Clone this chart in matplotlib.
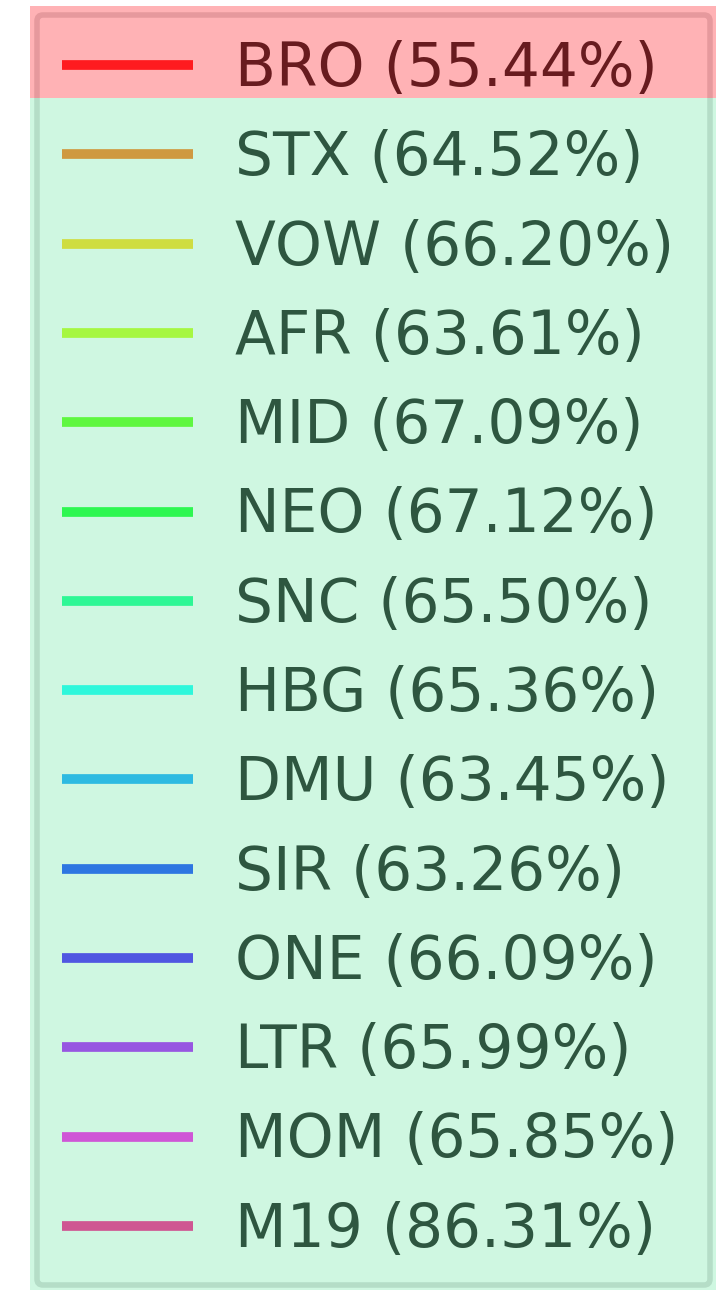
import matplotlib.pyplot as plt
import numpy as np
from matplotlib.patches import Rectangle

names = ["BRO", "STX", "VOW", "AFR", "MID", "NEO", "SNC",
         "HBG", "DMU", "SIR", "ONE", "LTR", "MOM", "M19"]
percents = [55.44, 64.52, 66.20, 63.61, 67.09, 67.12, 65.50,
            65.36, 63.45, 63.26, 66.09, 65.99, 65.85, 86.31]

W, H = 716, 1290
fig = plt.figure(figsize=(W / 100, H / 100), dpi=100)
fig.patch.set_facecolor("white")
ax = fig.add_axes([0, 0, 1, 1])
ax.set_axis_off()

colors = plt.cm.hsv(np.arange(len(names)) / len(names))
for name, pct, c in zip(names, percents, colors):
    ax.plot([], [], color=c, lw=7, solid_capstyle="butt",
            label=f"{name} ({pct:.2f}%)")

leg = ax.legend(loc="upper left",
                bbox_to_anchor=(37 / W, 1 - 15 / H, (710 - 37) / W, 0),
                bbox_transform=fig.transFigure, mode="expand",
                borderaxespad=0, fontsize=43, handlelength=2.2,
                handletextpad=0.7, labelspacing=0.507, borderpad=0.42)
frame = leg.get_frame()
frame.set_linewidth(4)
frame.set_boxstyle("round", pad=0, rounding_size=0.1)

# translucent highlight bands laid over the legend
def px_rect(x0, y0, x1, y1, color, alpha):
    r = Rectangle((x0 / W, 1 - y1 / H), (x1 - x0) / W, (y1 - y0) / H,
                  transform=fig.transFigure, facecolor=color, alpha=alpha,
                  edgecolor="none", zorder=10)
    fig.patches.append(r)

px_rect(30, 98, W, H, (125 / 255, 235 / 255, 175 / 255), 0.37)
px_rect(30, 6, W, 98, (1.0, 68 / 255, 76 / 255), 0.41)

fig.savefig("out.png", dpi=100)
